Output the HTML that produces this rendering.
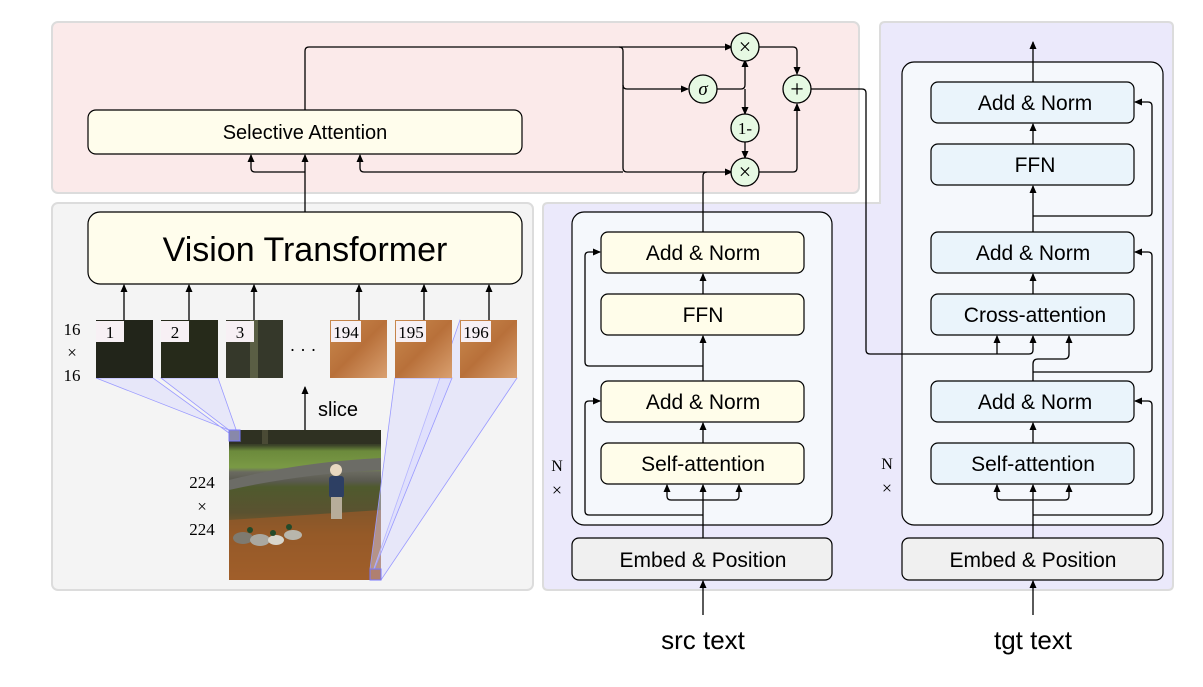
<!DOCTYPE html>
<html><head><meta charset="utf-8"><style>
html,body{margin:0;padding:0;background:#fff;}
svg{display:block;}
text{font-family:"Liberation Sans",sans-serif;}
.serif{font-family:"Liberation Serif",serif;}
</style></head><body>
<svg width="1203" height="687" viewBox="0 0 1203 687" xmlns="http://www.w3.org/2000/svg">
<defs>
<marker id="a" markerWidth="8" markerHeight="8" refX="7" refY="4" orient="auto" markerUnits="userSpaceOnUse">
<path d="M0,0.5 L8,4 L0,7.5 Z" fill="#000"/></marker>
<linearGradient id="img" x1="0" y1="0" x2="0" y2="1">
<stop offset="0" stop-color="#2e2f22"/><stop offset="0.1" stop-color="#3a4128"/>
<stop offset="0.14" stop-color="#6c8a3c"/><stop offset="0.25" stop-color="#7a9a45"/>
<stop offset="0.28" stop-color="#6a6a60"/><stop offset="0.34" stop-color="#5a5a50"/>
<stop offset="0.38" stop-color="#4f5a2e"/><stop offset="0.55" stop-color="#5a5230"/>
<stop offset="0.7" stop-color="#8a5a2a"/><stop offset="1" stop-color="#b06a30"/></linearGradient>
<linearGradient id="lv" x1="0" y1="0" x2="1" y2="1">
<stop offset="0" stop-color="#c98a4e"/><stop offset="0.5" stop-color="#b8703a"/><stop offset="1" stop-color="#d9a070"/></linearGradient>
</defs>

<!-- panels -->
<path d="M548,203 H880 V27 Q880,22 885,22 H1168 Q1173,22 1173,27 V585 Q1173,590 1168,590 H548 Q543,590 543,585 V208 Q543,203 548,203 Z" fill="#ebe9fb" stroke="#dcdcdc" stroke-width="2"/>
<rect x="52" y="22" width="807" height="171" rx="6" fill="#fbeaea" stroke="#dcdcdc" stroke-width="2"/>
<rect x="52" y="203" width="481" height="387" rx="6" fill="#f4f4f4" stroke="#dcdcdc" stroke-width="2"/>

<!-- Selective Attention & VT -->
<rect x="88" y="110" width="434" height="44" rx="8" fill="#fffdec" stroke="#000" stroke-width="1.2"/>
<text x="305" y="139" font-size="20" text-anchor="middle">Selective Attention</text>
<rect x="88" y="212" width="434" height="72" rx="12" fill="#fffdec" stroke="#000" stroke-width="1.2"/>
<text x="305" y="261" font-size="34" text-anchor="middle">Vision Transformer</text>

<!-- Encoder boxes -->
<rect x="572" y="212" width="260" height="313" rx="12" fill="#f5f8fc" stroke="#000" stroke-width="1.2"/>
<g fill="#fffdea" stroke="#000" stroke-width="1.2">
<rect x="601" y="232" width="203" height="41" rx="7"/><rect x="601" y="294" width="203" height="41" rx="7"/>
<rect x="601" y="381" width="203" height="41" rx="7"/><rect x="601" y="443" width="203" height="41" rx="7"/>
</g>
<rect x="572" y="538" width="260" height="42" rx="7" fill="#f0f0f0" stroke="#000" stroke-width="1.2"/>
<g font-size="21" text-anchor="middle">
<text x="703" y="260">Add &amp; Norm</text><text x="703" y="322">FFN</text>
<text x="703" y="409">Add &amp; Norm</text><text x="703" y="471">Self-attention</text>
<text x="703" y="567">Embed &amp; Position</text>
</g>

<!-- Decoder boxes -->
<rect x="902" y="62" width="261" height="463" rx="12" fill="#f5f8fc" stroke="#000" stroke-width="1.2"/>
<g fill="#eaf4fb" stroke="#000" stroke-width="1.2">
<rect x="931" y="82" width="203" height="41" rx="7"/><rect x="931" y="144" width="203" height="41" rx="7"/>
<rect x="931" y="232" width="203" height="41" rx="7"/><rect x="931" y="294" width="203" height="41" rx="7"/>
<rect x="931" y="381" width="203" height="41" rx="7"/><rect x="931" y="443" width="203" height="41" rx="7"/>
</g>
<rect x="902" y="538" width="261" height="42" rx="7" fill="#f0f0f0" stroke="#000" stroke-width="1.2"/>
<g font-size="21" text-anchor="middle">
<text x="1035" y="110">Add &amp; Norm</text><text x="1035" y="172">FFN</text>
<text x="1033" y="260">Add &amp; Norm</text><text x="1035" y="322">Cross-attention</text>
<text x="1035" y="409">Add &amp; Norm</text><text x="1033" y="471">Self-attention</text>
<text x="1033" y="567">Embed &amp; Position</text>
</g>

<g fill="none" stroke="#000" stroke-width="1.3">
<path d="M305,212 V155" marker-end="url(#a)"/>
<path d="M305,172 H255 Q251,172 251,168 V155" marker-end="url(#a)"/>
<path d="M305,110 V51 Q305,47 309,47 H619 Q623,47 623,51 V168 Q623,172 627,172 H732" marker-end="url(#a)"/>
<path d="M619,47 H732" marker-end="url(#a)"/>
<path d="M623,85 Q623,89 627,89 H688" marker-end="url(#a)"/>
<path d="M703,232 V176 Q703,172 707,172"/>
<path d="M623,172 H364 Q360,172 360,168 V155" marker-end="url(#a)"/>
<path d="M717,89 H741 Q745,89 745,85 V60" marker-end="url(#a)"/>
<path d="M745,89 V114" marker-end="url(#a)"/>
<path d="M745,142 V158" marker-end="url(#a)"/>
<path d="M759,47 H793 Q797,47 797,51 V74" marker-end="url(#a)"/>
<path d="M759,172 H793 Q797,172 797,168 V104" marker-end="url(#a)"/>
<path d="M811,89 H862 Q866,89 866,93 V350 Q866,354 870,354 H1029 Q1033,354 1033,350 V336" marker-end="url(#a)"/>
<path d="M997,354 V336" marker-end="url(#a)"/>
</g>
<g fill="#e6f9e3" stroke="#000" stroke-width="1.3">
<circle cx="745" cy="47" r="14"/><circle cx="703" cy="89" r="14"/><circle cx="797" cy="89" r="14"/>
<circle cx="745" cy="128" r="14"/><circle cx="745" cy="172" r="14"/>
</g>
<g class="serif" font-size="22" text-anchor="middle">
<text x="745" y="54" class="serif">×</text><text x="745" y="179" class="serif">×</text>
<text x="703" y="95" class="serif" font-style="italic" font-size="19">σ</text>
<text x="797" y="97" class="serif" font-size="24">+</text>
<text x="745" y="134" class="serif" font-size="17">1-</text>
</g>

<!-- Encoder connectors -->
<g fill="none" stroke="#000" stroke-width="1.3">
<path d="M703,615 V581" marker-end="url(#a)"/>
<path d="M703,538 V485" marker-end="url(#a)"/>
<path d="M703,500 H671 Q667,500 667,496 V485" marker-end="url(#a)"/>
<path d="M703,500 H735 Q739,500 739,496 V485" marker-end="url(#a)"/>
<path d="M703,515 H589 Q585,515 585,511 V405 Q585,401 589,401 H600" marker-end="url(#a)"/>
<path d="M703,443 V423" marker-end="url(#a)"/>
<path d="M703,381 V336" marker-end="url(#a)"/>
<path d="M703,366 H589 Q585,366 585,362 V256 Q585,252 589,252 H600" marker-end="url(#a)"/>
<path d="M703,294 V274" marker-end="url(#a)"/>
</g>
<text x="557" y="471" class="serif" font-size="16" text-anchor="middle">N</text>
<text x="557" y="496" class="serif" font-size="18" text-anchor="middle">×</text>
<text x="703" y="649" font-size="26" text-anchor="middle">src text</text>

<!-- Decoder connectors -->
<g fill="none" stroke="#000" stroke-width="1.3">
<path d="M1033,615 V581" marker-end="url(#a)"/>
<path d="M1033,538 V485" marker-end="url(#a)"/>
<path d="M1033,500 H1001 Q997,500 997,496 V485" marker-end="url(#a)"/>
<path d="M1033,500 H1065 Q1069,500 1069,496 V485" marker-end="url(#a)"/>
<path d="M1033,515 H1148 Q1152,515 1152,511 V405 Q1152,401 1148,401 H1135" marker-end="url(#a)"/>
<path d="M1033,443 V423" marker-end="url(#a)"/>
<path d="M1033,381 V364 Q1033,359 1038,359 H1064 Q1069,359 1069,354 V336" marker-end="url(#a)"/>
<path d="M1033,372 H1148 Q1152,372 1152,368 V256 Q1152,252 1148,252 H1135" marker-end="url(#a)"/>
<path d="M1033,294 V274" marker-end="url(#a)"/>
<path d="M1033,232 V186" marker-end="url(#a)"/>
<path d="M1033,216 H1148 Q1152,216 1152,212 V106 Q1152,102 1148,102 H1135" marker-end="url(#a)"/>
<path d="M1033,144 V124" marker-end="url(#a)"/>
<path d="M1033,82 V42" marker-end="url(#a)"/>
</g>
<text x="887" y="469" class="serif" font-size="16" text-anchor="middle">N</text>
<text x="887" y="494" class="serif" font-size="18" text-anchor="middle">×</text>
<text x="1033" y="649" font-size="26" text-anchor="middle">tgt text</text>

<!-- Image -->
<rect x="229" y="430" width="152" height="150" fill="url(#img)"/>
<rect x="229" y="430" width="152" height="14" fill="#2f3122"/>
<rect x="262" y="430" width="6" height="14" fill="#4a4a35"/>
<path d="M229,480 Q300,462 381,458 V470 Q300,474 229,490 Z" fill="#6c6c66"/>
<path d="M229,520 L381,510 V580 H229 Z" fill="#9a5a28" opacity="0.7"/>
<circle cx="336" cy="470" r="6" fill="#e8d8c0"/>
<rect x="329" y="476" width="15" height="22" rx="3" fill="#2d3f63"/>
<rect x="331" y="497" width="11" height="22" fill="#b7ad9a"/>
<ellipse cx="243" cy="538" rx="10" ry="6" fill="#7e7a70"/>
<ellipse cx="260" cy="540" rx="10" ry="6" fill="#aaa8a0"/>
<ellipse cx="276" cy="540" rx="8" ry="5" fill="#d8d6cc"/>
<ellipse cx="293" cy="535" rx="9" ry="5" fill="#b8b6ac"/>
<circle cx="250" cy="530" r="3" fill="#234a2a"/><circle cx="273" cy="533" r="3" fill="#234a2a"/><circle cx="289" cy="527" r="3" fill="#234a2a"/>

<!-- projection cones -->
<g fill="#d8d8ff" fill-opacity="0.45" stroke="#9a9aff" stroke-width="0.8">
<polygon points="96,378 153,378 240,441 229,441 229,430"/>
<polygon points="161,378 218,378 240,441 229,430"/>
<polygon points="460,320 517,378 381,580 370,580"/>
<polygon points="395,378 452,378 370,580 370,569"/>
</g>
<rect x="229" y="430" width="11" height="11" fill="#8888aa" stroke="#7777ff"/>
<rect x="370" y="569" width="11" height="11" fill="#b08070" stroke="#7777ff"/>

<!-- patches -->
<rect x="96" y="320" width="57" height="58" fill="#22251a"/>
<rect x="161" y="320" width="57" height="58" fill="#262a1a"/>
<rect x="226" y="320" width="57" height="58" fill="#35382a"/>
<rect x="250" y="320" width="8" height="58" fill="#5a5e44"/>
<rect x="330" y="320" width="57" height="58" fill="url(#lv)"/>
<rect x="395" y="320" width="57" height="58" fill="url(#lv)"/>
<rect x="460" y="320" width="57" height="58" fill="url(#lv)"/>
<g fill="#f7f0f4">
<rect x="96" y="321" width="28" height="21"/><rect x="161" y="321" width="28" height="21"/><rect x="226" y="321" width="28" height="21"/>
<rect x="331" y="321" width="30" height="21"/><rect x="396" y="321" width="30" height="21"/><rect x="461" y="321" width="30" height="21"/>
</g>
<g class="serif" font-size="17" text-anchor="middle">
<text x="110" y="338" class="serif">1</text><text x="175" y="338" class="serif">2</text><text x="240" y="338" class="serif">3</text>
<text x="346" y="338" class="serif">194</text><text x="411" y="338" class="serif">195</text><text x="476" y="338" class="serif">196</text>
<text x="303" y="356" class="serif" font-size="18">· · ·</text>
<text x="72" y="335" class="serif">16</text><text x="72" y="358" class="serif">×</text><text x="72" y="381" class="serif">16</text>
<text x="202" y="488" class="serif">224</text><text x="202" y="512" class="serif">×</text><text x="202" y="535" class="serif">224</text>
</g>
<g fill="none" stroke="#000" stroke-width="1.3">
<path d="M124,320 V285" marker-end="url(#a)"/><path d="M189,320 V285" marker-end="url(#a)"/>
<path d="M254,320 V285" marker-end="url(#a)"/><path d="M359,320 V285" marker-end="url(#a)"/>
<path d="M424,320 V285" marker-end="url(#a)"/><path d="M489,320 V285" marker-end="url(#a)"/>
<path d="M305,430 V387" marker-end="url(#a)"/>
</g>
<text x="318" y="416" font-size="20">slice</text>
</svg>
</body></html>
